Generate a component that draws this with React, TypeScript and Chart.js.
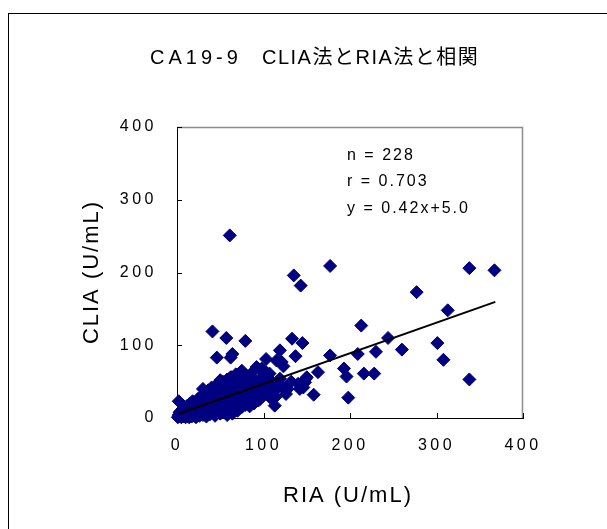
import { useEffect, useRef } from "react";
import { Chart, registerables } from "chart.js";

Chart.register(...registerables);

const FONT = '"Liberation Sans", Arial, "Noto Sans CJK JP", sans-serif';

const chartTitleLead = "CA19-9";
const chartTitleRest = "CLIA法とRIA法と相関";
const xAxisTitle = "RIA (U/mL)";
const yAxisTitle = "CLIA (U/mL)";
const statLines = ["n = 228", "r = 0.703", "y = 0.42x+5.0"];
const axisTicks = [0, 100, 200, 300, 400];
const regressionSlope = 0.42;
const regressionIntercept = 5.0;
const regressionRange = [2, 368];

// [RIA, CLIA] pairs
const outlierPoints: [number, number][] = [
  [61, 251], [177, 209], [135, 196], [143, 182], [277, 173], [338, 206], [367, 203], [313, 148],
  [213, 127], [244, 110], [260, 94], [301, 103], [308, 80], [338, 53], [209, 88], [230, 91],
  [177, 86], [216, 61], [228, 61], [193, 68], [196, 57], [198, 28], [163, 63], [158, 32],
  [149, 54], [146, 42], [41, 119], [57, 110], [79, 106], [46, 83], [62, 83], [64, 88],
  [103, 81], [119, 93], [123, 71], [133, 109], [145, 103], [137, 85], [115, 79], [2, 23],
];

const midPoints: [number, number][] = [
  [98, 68], [107, 61], [126, 42], [114, 29], [113, 17], [148, 49], [142, 40], [150, 56],
  [93, 39], [84, 29], [96, 26], [77, 20], [69, 14], [61, 8], [30, 40], [50, 52],
  [63, 56], [71, 60], [80, 54], [90, 52], [96, 66], [92, 70], [101, 36], [128, 40],
  [122, 42], [119, 54], [140, 47], [121, 77], [103, 63], [107, 29], [126, 33], [101, 47],
  [115, 40], [88, 45], [110, 50], [132, 50], [105, 42], [85, 60], [75, 65], [68, 58],
];

const clusterPoints: [number, number][] = [
  [1, 1], [2, 4], [3, 2], [4, 7], [5, 1], [5, 10], [6, 4], [7, 13], [8, 2], [8, 8],
  [9, 15], [10, 5], [10, 1], [11, 11], [12, 3], [12, 17], [13, 8], [14, 1], [14, 13], [15, 5],
  [15, 20], [16, 10], [17, 2], [17, 15], [18, 7], [18, 23], [19, 12], [20, 3], [20, 18], [21, 9],
  [22, 14], [22, 1], [23, 20], [24, 6], [24, 26], [25, 11], [26, 3], [26, 17], [27, 22], [28, 8],
  [28, 30], [29, 14], [30, 4], [30, 19], [31, 25], [32, 10], [32, 34], [33, 16], [34, 2], [34, 21],
  [35, 28], [36, 12], [36, 38], [37, 18], [38, 5], [38, 24], [39, 31], [40, 14], [40, 42], [41, 20],
  [42, 8], [42, 27], [43, 35], [44, 16], [44, 3], [45, 23], [45, 44], [46, 30], [47, 11], [47, 38],
  [48, 19], [48, 48], [49, 26], [50, 6], [50, 33], [51, 41], [52, 15], [52, 22], [53, 50], [54, 29],
  [54, 10], [55, 37], [56, 45], [56, 18], [57, 25], [58, 53], [58, 4], [59, 32], [60, 40], [60, 12],
  [61, 48], [62, 20], [62, 56], [63, 28], [64, 36], [64, 6], [65, 44], [66, 52], [66, 16], [67, 24],
  [68, 60], [68, 32], [69, 40], [70, 10], [70, 48], [71, 55], [72, 20], [72, 28], [73, 36], [74, 62],
  [74, 44], [75, 15], [75, 52], [76, 24], [77, 32], [77, 58], [78, 40], [78, 48], [79, 18], [80, 28],
  [80, 58], [81, 36], [82, 44], [82, 22], [83, 52], [84, 16], [84, 32], [85, 40], [86, 48], [86, 26],
  [87, 50], [88, 35], [89, 20], [90, 42], [90, 30], [92, 48], [94, 24], [95, 36], [97, 54], [99, 30],
  [100, 44], [102, 38], [104, 55], [106, 34], [108, 46], [110, 26], [112, 38], [3, 8],
];

const decorPlugin = {
  id: "decor",
  beforeUpdate(chart: any) {
    chart.ctx.letterSpacing = "3.5px";
  },
  beforeDraw(chart: any) {
    const { ctx, width, height } = chart;
    ctx.save();
    ctx.fillStyle = "#ffffff";
    ctx.fillRect(0, 0, width, height);
    ctx.strokeStyle = "#000000";
    ctx.lineWidth = 1;
    ctx.strokeRect(8.5, 13.5, width + 40, height + 40);
    ctx.restore();
    ctx.letterSpacing = "3.5px";
  },
  beforeDatasetsDraw(chart: any) {
    const { ctx, chartArea: a, scales } = chart;
    ctx.save();
    ctx.strokeStyle = "#8c8c8c";
    ctx.lineWidth = 1.5;
    ctx.beginPath();
    ctx.moveTo(a.left, a.top + 0.5);
    ctx.lineTo(a.right - 0.5, a.top + 0.5);
    ctx.lineTo(a.right - 0.5, a.bottom);
    ctx.stroke();
    ctx.strokeStyle = "#000000";
    ctx.lineWidth = 1;
    ctx.beginPath();
    for (const v of axisTicks) {
      const y = Math.round(scales.y.getPixelForValue(v)) + 0.5;
      ctx.moveTo(a.left, y);
      ctx.lineTo(a.left + 5, y);
      const x = Math.round(scales.x.getPixelForValue(v)) + 0.5;
      ctx.moveTo(x, a.bottom);
      ctx.lineTo(x, a.bottom - 5);
    }
    ctx.stroke();
    ctx.restore();
  },
  afterDraw(chart: any) {
    const { ctx } = chart;
    ctx.save();
    ctx.fillStyle = "#000000";
    ctx.textBaseline = "alphabetic";
    ctx.textAlign = "left";
    // title
    ctx.font = `20px ${FONT}`;
    ctx.letterSpacing = "4px";
    ctx.fillText(chartTitleLead, 150, 64);
    ctx.letterSpacing = "1.5px";
    ctx.fillText(chartTitleRest, 262, 64);
    // stats
    ctx.font = `16px ${FONT}`;
    ctx.letterSpacing = "2px";
    const statBase = [160, 186, 213];
    statLines.forEach((s, i) => ctx.fillText(s, 347, statBase[i]));
    // axis titles
    ctx.font = `22px ${FONT}`;
    ctx.letterSpacing = "2px";
    ctx.textAlign = "center";
    ctx.textBaseline = "middle";
    ctx.fillText(xAxisTitle, 348, 496);
    ctx.translate(92, 272);
    ctx.rotate(-Math.PI / 2);
    ctx.fillText(yAxisTitle, 0, 0);
    ctx.restore();
  },
};

export default function App() {
  const ref = useRef<HTMLCanvasElement>(null);

  useEffect(() => {
    document.body.style.margin = "0";
    const canvas = ref.current;
    if (!canvas) return;
    const allPoints = [...outlierPoints, ...midPoints, ...clusterPoints].map(([x, y]) => ({ x, y }));
    const lineData = regressionRange.map((x) => ({ x, y: regressionSlope * x + regressionIntercept }));
    const tickFont = { size: 16, family: FONT };
    const chart = new Chart(canvas, {
      type: "scatter",
      data: {
        datasets: [
          {
            type: "line",
            data: lineData,
            borderColor: "#000000",
            borderWidth: 2,
            pointRadius: 0,
            fill: false,
            order: 0,
          } as any,
          {
            type: "scatter",
            data: allPoints,
            pointStyle: "rectRot",
            pointRadius: 6.5,
            backgroundColor: "#000080",
            borderColor: "#000080",
            borderWidth: 1,
            clip: false,
            order: 1,
          } as any,
        ],
      },
      options: {
        responsive: false,
        animation: false,
        devicePixelRatio: 1,
        events: [],
        layout: { padding: { left: 0, right: 84, top: 127, bottom: 0 } },
        plugins: {
          legend: { display: false },
          title: { display: false },
          tooltip: { enabled: false },
        },
        scales: {
          x: {
            type: "linear",
            position: "bottom",
            min: 0,
            max: 400,
            grid: { display: false, drawTicks: false },
            border: { display: true, color: "#000000", width: 1 },
            ticks: { stepSize: 100, padding: 18, color: "#000000", font: tickFont, maxRotation: 0 },
            afterFit: (s: any) => {
              s.height = 111;
            },
          },
          y: {
            type: "linear",
            position: "left",
            min: 0,
            max: 400,
            grid: { display: false, drawTicks: false },
            border: { display: true, color: "#000000", width: 1 },
            ticks: { stepSize: 100, padding: 20, color: "#000000", font: tickFont },
            afterFit: (s: any) => {
              s.width = 177;
            },
          },
        },
      } as any,
      plugins: [decorPlugin as any],
    });
    return () => chart.destroy();
  }, []);

  return (
    <div style={{ position: "fixed", left: 0, top: 0, width: 607, height: 529, overflow: "hidden", background: "#ffffff" }}>
      <canvas ref={ref} width={607} height={529} style={{ display: "block", width: 607, height: 529 }} />
    </div>
  );
}
